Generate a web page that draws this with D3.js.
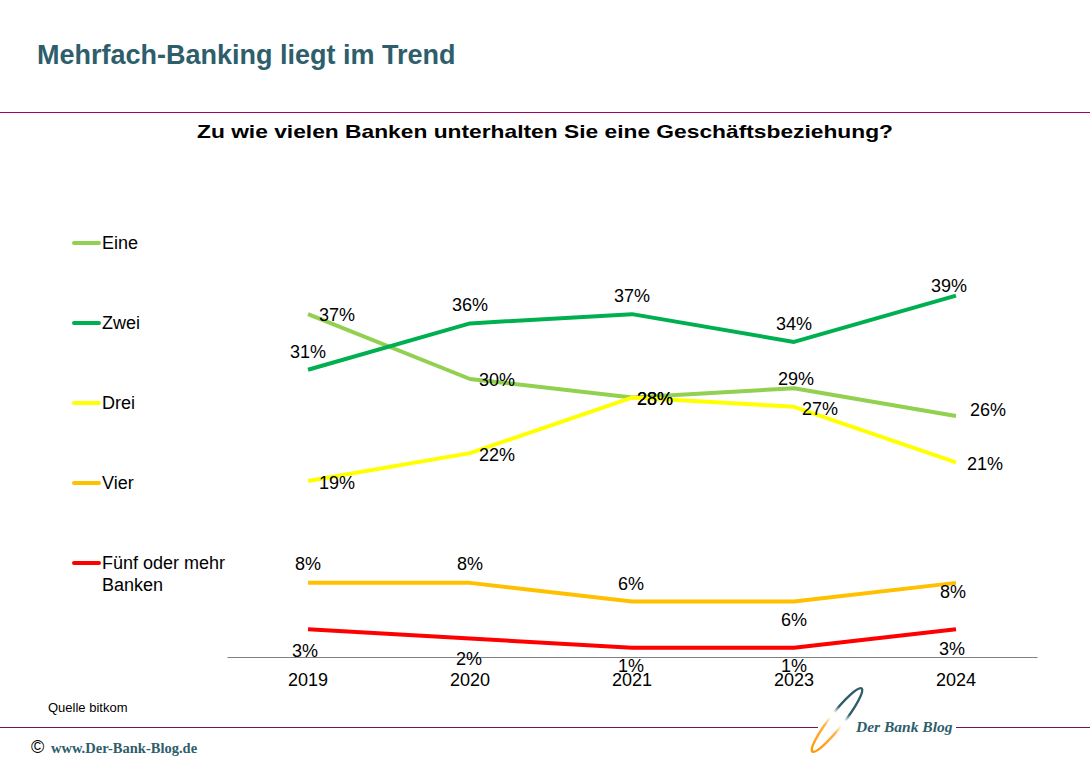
<!DOCTYPE html>
<html><head><meta charset="utf-8">
<script src="https://cdn.jsdelivr.net/npm/d3@7"></script>
<style>
body{margin:0;background:#fff;}
svg{display:block;font-family:"Liberation Sans",Arial,sans-serif;}
</style></head>
<body><svg id="c" width="1090" height="761"></svg>
<script>
// ---- data ----
const years = ["2019","2020","2021","2023","2024"];
const seriesNames = ["Eine","Zwei","Drei","Vier","Fünf oder mehr Banken"];
const eine = [37,30,28,29,26];
const zwei = [31,36,37,34,39];
const drei = [19,22,28,27,21];
const vier = [8,8,6,6,8];
const fuenf = [3,2,1,1,3];
const seriesValues = [eine,zwei,drei,vier,fuenf];

// ---- style / layout ----
const colors = ["#92d050","#00b050","#ffff00","#ffc000","#ff0000"];
const labelOffsets = [
  [[29,1],[27,1],[23,1],[2,-9],[32,-6]],
  [[0,-18],[0,-18],[0,-18],[0,-18],[-7,-10]],
  [[29,2],[27,2],[23,1],[26,2],[29,2]],
  [[0,-19],[0,-19],[-1,-17],[0,19],[-3,9]],
  [[-3,22],[-1,21],[-1,18],[0,18],[-4,20]]
];

const svg = d3.select("#c");

// header
svg.append("text").attr("x",37).attr("y",64).attr("font-size",27).attr("font-weight","bold")
  .attr("fill","#2e5e6b").text("Mehrfach-Banking liegt im Trend");
svg.append("line").attr("x1",0).attr("x2",1090).attr("y1",112.5).attr("y2",112.5)
  .attr("stroke","#a0006a").attr("stroke-width",1.2);
svg.append("text").attr("x",545).attr("y",138).attr("text-anchor","middle").attr("font-size",19)
  .attr("font-weight","bold").attr("fill","#000").attr("textLength",696).attr("lengthAdjust","spacingAndGlyphs")
  .text("Zu wie vielen Banken unterhalten Sie eine Geschäftsbeziehung?");

// scales
const x = d3.scaleBand().domain(years).range([227,1037]).padding(0);
const y = d3.scaleLinear().domain([0,45]).range([657,240]);
const cx = d => x(d) + x.bandwidth()/2;

// axis
const ax = svg.append("g").attr("transform","translate(0,657)")
  .call(d3.axisBottom(x).tickSize(0).tickSizeOuter(0).tickPadding(16));
ax.select(".domain").attr("stroke","#808080").attr("stroke-width",1);
ax.selectAll("text").attr("font-size",18).attr("font-family","'Liberation Sans',Arial,sans-serif").attr("fill","#000");

// lines
const line = d3.line().x((d,i)=>cx(years[i])).y(d=>y(d));
seriesValues.forEach((vals,si)=>{
  svg.append("path").datum(vals).attr("d",line).attr("fill","none")
    .attr("stroke",colors[si]).attr("stroke-width",4).attr("stroke-linejoin","round");
});
// labels
seriesValues.forEach((vals,si)=>{
  svg.append("g").selectAll("text").data(vals).join("text")
    .attr("x",(d,i)=>cx(years[i])+labelOffsets[si][i][0])
    .attr("y",(d,i)=>y(d)+labelOffsets[si][i][1])
    .attr("text-anchor","middle").attr("dominant-baseline","central")
    .attr("font-size",18).attr("fill","#000").text(d=>d+"%");
});

// legend
const legY = [243,323,403,483,563];
seriesNames.forEach((n,i)=>{
  svg.append("line").attr("x1",74).attr("x2",99).attr("y1",legY[i]).attr("y2",legY[i])
    .attr("stroke",colors[i]).attr("stroke-width",4).attr("stroke-linecap","round");
  const t = svg.append("text").attr("x",102).attr("y",legY[i]).attr("dominant-baseline","central")
    .attr("font-size",18).attr("fill","#000");
  if(i===4){
    t.text("Fünf oder mehr");
    svg.append("text").attr("x",102).attr("y",legY[i]+22).attr("dominant-baseline","central")
      .attr("font-size",18).attr("fill","#000").text("Banken");
  } else t.text(n);
});

// source
svg.append("text").attr("x",48).attr("y",712).attr("font-size",13).attr("fill","#000").text("Quelle bitkom");

// footer
svg.append("line").attr("x1",0).attr("x2",818).attr("y1",727.5).attr("y2",727.5).attr("stroke","#7a1060").attr("stroke-width",1.2);
svg.append("line").attr("x1",956).attr("x2",1090).attr("y1",727.5).attr("y2",727.5).attr("stroke","#7a1060").attr("stroke-width",1.2);
svg.append("text").attr("x",31).attr("y",753).attr("font-size",18).attr("fill","#000").text("©");
svg.append("text").attr("x",51).attr("y",753).attr("font-size",14.5).attr("font-weight","bold")
  .attr("font-family","'Liberation Serif','DejaVu Serif',serif").attr("fill","#2e5e6b").text("www.Der-Bank-Blog.de");

// logo
const defs = svg.append("defs");
const g = defs.append("linearGradient").attr("id","lg").attr("x1","0").attr("y1","1").attr("x2","0").attr("y2","0");
[["0","#ff9900"],["0.35","#ffb040"],["0.48","#ffffff"],["0.55","#ffffff"],["0.65","#2e5e6b"],["1","#2e5e6b"]]
  .forEach(s=>g.append("stop").attr("offset",s[0]).attr("stop-color",s[1]));
svg.append("ellipse").attr("cx",0).attr("cy",0).attr("rx",7).attr("ry",40)
  .attr("transform","translate(837,720) rotate(38)")
  .attr("fill","none").attr("stroke","url(#lg)").attr("stroke-width",2.5);
svg.append("text").attr("x",856).attr("y",732).attr("font-size",15.5).attr("font-weight","bold").attr("font-style","italic")
  .attr("font-family","'Liberation Serif','DejaVu Serif',serif").attr("fill","#2e5e6b").text("Der Bank Blog");
</script></body></html>
